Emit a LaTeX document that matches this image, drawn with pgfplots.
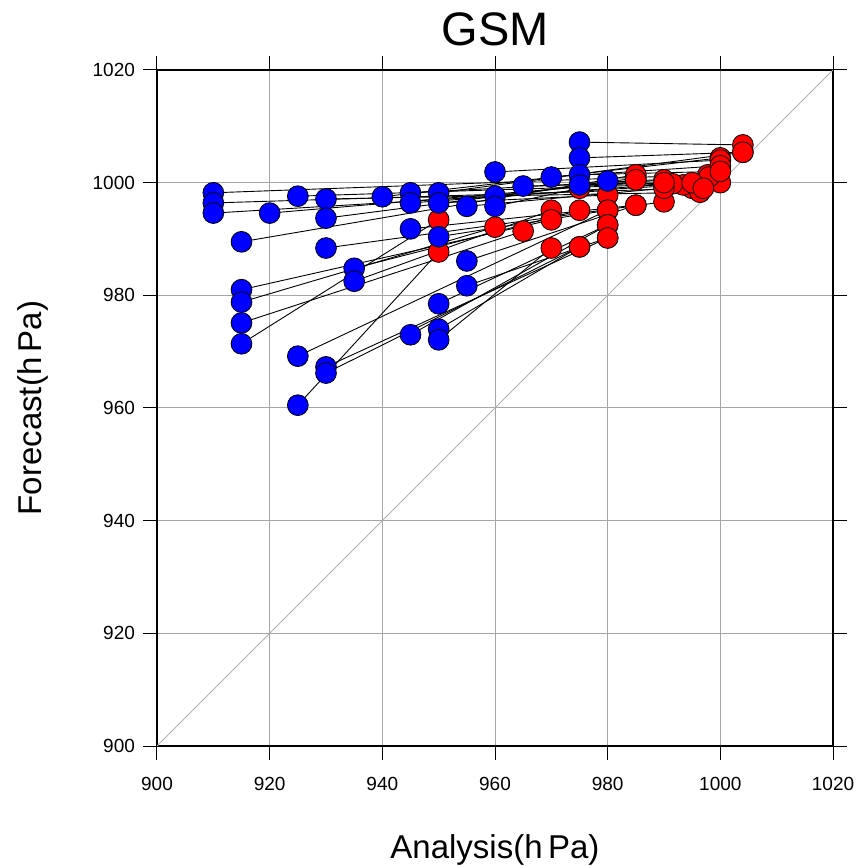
\documentclass[border=0pt]{standalone}
\usepackage{pgfplots}
\usepackage{pgfplotstable}
\pgfplotsset{compat=1.18}
\usepackage{fontspec}
\setmainfont{Liberation Sans}

\pgfplotstableread{
bx by rx ry
910 998.2 997.8 1001.4
910 996.4 995.0 999.0
910 994.6 993.4 999.6
920 994.6 990.0 1000.5
925 997.6 1000.0 1000.0
930 997.1 996.4 998.3
930 993.7 985.0 1000.8
915 989.5 985.0 1001.4
930 988.4 990.0 996.6
940 997.5 1000.0 1004.4
945 998.2 998.0 1001.0
945 996.4 991.5 999.8
945 991.8 985.0 996.0
950 998.2 1004.0 1005.4
950 996.4 980.0 997.8
950 990.4 980.0 995.1
955 995.8 990.0 999.0
960 1001.9 1000.0 1004.0
960 997.6 985.0 1000.5
960 995.8 975.0 999.0
965 999.4 995.0 1000.0
970 1001.0 1000.0 1003.0
975 1007.2 1004.0 1006.7
975 1004.4 1004.0 1005.4
975 1001.4 1000.0 1002.0
975 999.6 990.0 1000.0
980 1000.3 997.0 999.0
935 984.8 975.0 995.1
935 982.5 970.0 995.1
915 981.0 970.0 993.4
915 978.8 960.0 992.1
915 975.1 965.0 991.4
915 971.4 950.0 993.4
925 969.2 980.0 995.1
930 967.3 980.0 990.2
930 966.2 975.0 988.6
925 960.5 950.0 987.7
945 973.0 980.0 992.5
950 978.5 980.0 992.5
950 974.0 975.0 988.6
950 972.1 970.0 988.4
955 986.1 985.0 996.0
955 981.7 980.0 990.2
}\pairs

\begin{document}
\begin{tikzpicture}
\begin{axis}[
  name=ax,
  scale only axis,
  width=338pt, height=338pt,
  xmin=900, xmax=1020, ymin=900, ymax=1020,
  xtick={900,920,...,1020}, ytick={900,920,...,1020},
  xtick pos=both, ytick pos=both,
  xticklabel pos=lower, yticklabel pos=left,
  tick align=outside,
  major tick length=7pt,
  every tick/.style={black, line width=0.5pt},
  axis line style={black, line width=1.4pt},
  grid=major,
  major grid style={gray!70, line width=0.5pt},
  /pgf/number format/assume math mode=true,
  /pgf/number format/1000 sep={},
  tick label style={font=\fontsize{9.5}{12}\selectfont},
  xticklabel style={yshift=-5pt},
  yticklabel style={xshift=-0.5pt},
  title={GSM},
  title style={font=\fontsize{23.5}{28}\selectfont, at={(0.5,1)}, anchor=base, yshift=6pt},
  xlabel={Analysis(h\,Pa)},
  ylabel={Forecast(h\,Pa)},
  label style={font=\fontsize{16.5}{20}\selectfont},
  xlabel style={at={(axis description cs:0.5,0)}, anchor=base, yshift=-56pt},
  ylabel style={at={(axis description cs:0,0.5)}, anchor=base, yshift=57.5pt},
  clip=true,
]
\addplot[gray!60, line width=0.5pt, mark=none] coordinates {(900,900) (1020,1020)};
\addplot[only marks, mark=*, mark size=5.2pt, mark options={fill=red, draw=black, line width=0.4pt}] table[x=rx, y=ry]{\pairs};
\addplot[black, line width=0.45pt, mark=none, quiver={u=\thisrow{rx}-\thisrow{bx}, v=\thisrow{ry}-\thisrow{by}}] table[x=bx, y=by]{\pairs};
\addplot[only marks, mark=*, mark size=5.2pt, mark options={fill=blue, draw=black, line width=0.4pt}] table[x=bx, y=by]{\pairs};
\end{axis}
\path (ax.south west) ++(-78.5pt,-60pt) coordinate (bbA);
\path (ax.north east) ++(13.5pt,35pt) coordinate (bbB);
\pgfresetboundingbox
\path[use as bounding box] (bbA) rectangle (bbB);
\end{tikzpicture}
\end{document}
